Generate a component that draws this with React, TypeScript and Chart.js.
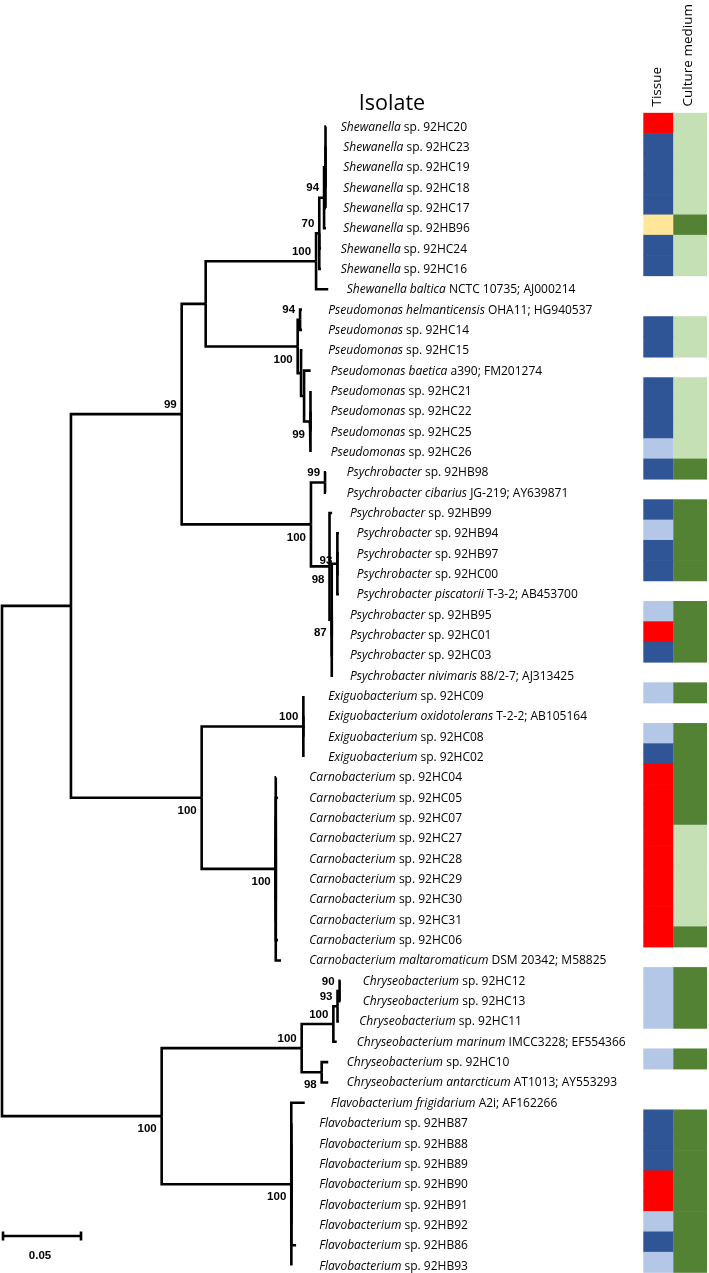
import React, { useEffect, useRef } from "react";
import { Chart, registerables } from "chart.js";

Chart.register(...registerables);

// ---------- DATA ----------
const leafGenus = [
  "Shewanella", "Shewanella", "Shewanella", "Shewanella", "Shewanella", "Shewanella", "Shewanella", "Shewanella",
  "Shewanella baltica",
  "Pseudomonas helmanticensis", "Pseudomonas", "Pseudomonas", "Pseudomonas baetica",
  "Pseudomonas", "Pseudomonas", "Pseudomonas", "Pseudomonas",
  "Psychrobacter", "Psychrobacter cibarius", "Psychrobacter", "Psychrobacter", "Psychrobacter", "Psychrobacter",
  "Psychrobacter piscatorii", "Psychrobacter", "Psychrobacter", "Psychrobacter", "Psychrobacter nivimaris",
  "Exiguobacterium", "Exiguobacterium oxidotolerans", "Exiguobacterium", "Exiguobacterium",
  "Carnobacterium", "Carnobacterium", "Carnobacterium", "Carnobacterium", "Carnobacterium", "Carnobacterium",
  "Carnobacterium", "Carnobacterium", "Carnobacterium", "Carnobacterium maltaromaticum",
  "Chryseobacterium", "Chryseobacterium", "Chryseobacterium", "Chryseobacterium marinum", "Chryseobacterium",
  "Chryseobacterium antarcticum",
  "Flavobacterium frigidarium", "Flavobacterium", "Flavobacterium", "Flavobacterium", "Flavobacterium",
  "Flavobacterium", "Flavobacterium", "Flavobacterium", "Flavobacterium",
];
const leafRest = [
  "sp. 92HC20", "sp. 92HC23", "sp. 92HC19", "sp. 92HC18", "sp. 92HC17", "sp. 92HB96", "sp. 92HC24", "sp. 92HC16",
  "NCTC 10735; AJ000214",
  "OHA11; HG940537", "sp. 92HC14", "sp. 92HC15", "a390; FM201274",
  "sp. 92HC21", "sp. 92HC22", "sp. 92HC25", "sp. 92HC26",
  "sp. 92HB98", "JG-219; AY639871", "sp. 92HB99", "sp. 92HB94", "sp. 92HB97", "sp. 92HC00",
  "T-3-2; AB453700", "sp. 92HB95", "sp. 92HC01", "sp. 92HC03", "88/2-7; AJ313425",
  "sp. 92HC09", "T-2-2; AB105164", "sp. 92HC08", "sp. 92HC02",
  "sp. 92HC04", "sp. 92HC05", "sp. 92HC07", "sp. 92HC27", "sp. 92HC28", "sp. 92HC29",
  "sp. 92HC30", "sp. 92HC31", "sp. 92HC06", "DSM 20342; M58825",
  "sp. 92HC12", "sp. 92HC13", "sp. 92HC11", "IMCC3228; EF554366", "sp. 92HC10",
  "AT1013; AY553293",
  "A2i; AF162266", "sp. 92HB87", "sp. 92HB88", "sp. 92HB89", "sp. 92HB90",
  "sp. 92HB91", "sp. 92HB92", "sp. 92HB86", "sp. 92HB93",
];
// distance from root (substitutions/site) of each tip
const leafDepth = [
  0.2025, 0.2025, 0.2025, 0.2025, 0.2025, 0.2025, 0.1994, 0.1994,
  0.2039,
  0.1875, 0.1875, 0.1878, 0.1929,
  0.1931, 0.1931, 0.1931, 0.1931,
  0.2025, 0.2025, 0.2063, 0.2106, 0.2106, 0.2106,
  0.2106, 0.2069, 0.2069, 0.2069, 0.2069,
  0.1884, 0.1884, 0.1884, 0.1884,
  0.1713, 0.1725, 0.1713, 0.1713, 0.1713, 0.1713,
  0.1713, 0.1713, 0.1725, 0.1744,
  0.2116, 0.2116, 0.2106, 0.2092, 0.2039,
  0.2039,
  0.1892, 0.1809, 0.1809, 0.1809, 0.1809,
  0.1809, 0.1809, 0.1838, 0.1809,
];
// tissue: B dark blue, L light blue, R red, Y yellow, "" none
const tissue = [
  "R", "B", "B", "B", "B", "Y", "B", "B",
  "",
  "", "B", "B", "",
  "B", "B", "B", "L",
  "B", "", "B", "L", "B", "B",
  "", "L", "R", "B", "",
  "L", "", "L", "B",
  "R", "R", "R", "R", "R", "R",
  "R", "R", "R", "",
  "L", "L", "L", "", "L",
  "",
  "", "B", "B", "B", "R",
  "R", "L", "B", "L",
];
// culture medium: G dark green, g light green, "" none
const culture = [
  "g", "g", "g", "g", "g", "G", "g", "g",
  "",
  "", "g", "g", "",
  "g", "g", "g", "g",
  "G", "", "G", "G", "G", "G",
  "", "G", "G", "G", "",
  "G", "", "G", "G",
  "G", "G", "G", "g", "g", "g",
  "g", "g", "G", "",
  "G", "G", "G", "", "G",
  "",
  "", "G", "G", "G", "G",
  "G", "G", "G", "G",
];
// internal nodes
const nodeIds = ["R", "A", "P", "G1", "Sh", "S70", "S94", "SX", "Pm", "P94", "N2", "Pb", "P99",
  "Ps", "Ps99", "Ps98", "N3", "Ps93", "F", "Ex", "C", "B", "Ch", "Ch100b", "Ch93", "Ch90", "Ch98", "Fl"];
const nodeDepth = [0, 0.0431, 0.1123, 0.1273, 0.1963, 0.1983, 0.2013, 0.2022, 0.1848, 0.1863, 0.1869, 0.1888, 0.1925,
  0.1931, 0.2019, 0.2047, 0.2061, 0.2096, 0.1248, 0.1883, 0.1711, 0.0998, 0.1873, 0.2071, 0.2097, 0.2110, 0.1998, 0.1808];
const nodeKids: (number | string)[][] = [
  ["A", "B"],
  ["P", "F"],
  ["G1", "Ps"],
  ["Sh", "Pm"],
  ["S70", 8],
  ["S94", 6, 7],
  ["SX", 5],
  [0, 1, 2, 3, 4],
  ["P94", "N2"],
  [9, 10],
  [11, "Pb"],
  [12, "P99"],
  [13, 14, 15, 16],
  ["Ps99", "Ps98"],
  [17, 18],
  [19, "N3"],
  ["Ps93", 24, 25, 26, 27],
  [20, 21, 22, 23],
  ["Ex", "C"],
  [28, 29, 30, 31],
  [32, 33, 34, 35, 36, 37, 38, 39, 40, 41],
  ["Ch", "Fl"],
  ["Ch100b", "Ch98"],
  ["Ch93", 45],
  ["Ch90", 44],
  [42, 43],
  [46, 47],
  [48, 49, 50, 51, 52, 53, 54, 55, 56],
];
const nodeBoot = [null, null, 99, null, 100, 70, 94, null, 100, 94, null, null, 99,
  100, 99, 98, 87, 93, 100, 100, 100, 100, 100, 100, 93, 90, 98, 100];
const scaleBarValue = 0.05;

// ---------- LAYOUT (pixels / styles) ----------
const W = 709, H = 1273;
const PX_PER_UNIT = 1600, TREE_X0 = 2;
const ROW0 = 126.5, ROW = 20.34;
// a: above-left, b: below-left, m: left, middle
const bootSide = ["", "", "a", "", "a", "a", "a", "", "b", "a", "", "", "b",
  "b", "a", "b", "b", "m", "b", "a", "b", "b", "a", "a", "a", "a", "b", "b"];
const labelLeft = [
  340.7, 343.3, 343.3, 343.3, 343.3, 343.3, 340.7, 340.7,
  346.7,
  328.3, 328.3, 328.3, 330.7,
  330.7, 330.7, 330.7, 330.7,
  346.7, 346.7, 350, 356.7, 356.7, 356.7,
  356.7, 350, 350, 350, 350,
  328.3, 328.3, 328.3, 328.3,
  309.3, 309.3, 309.3, 309.3, 309.3, 309.3,
  309.3, 309.3, 309.3, 309.3,
  362.7, 362.7, 359.3, 356.7, 346.7,
  346.7,
  330.7, 319.3, 319.3, 319.3, 319.3,
  319.3, 319.3, 319.3, 319.3,
];
const colors: Record<string, string> = {
  B: "#2F5597", L: "#B4C7E7", R: "#FF0000", Y: "#FFE699", G: "#548235", g: "#C5E0B4",
};

export default function App() {
  const ref = useRef<HTMLCanvasElement>(null);
  useEffect(() => {
    document.body.style.margin = "0";
    const canvas = ref.current!;
    const idx = (id: string) => nodeIds.indexOf(id);
    const yCache = new Map<string, number>();
    const nodeY = (id: string): number => {
      if (yCache.has(id)) return yCache.get(id)!;
      const kids = nodeKids[idx(id)];
      const y = (childY(kids[0]) + childY(kids[kids.length - 1])) / 2;
      yCache.set(id, y);
      return y;
    };
    const childY = (c: number | string) => (typeof c === "number" ? c : nodeY(c));
    const childD = (c: number | string) => (typeof c === "number" ? leafDepth[c] : nodeDepth[idx(c)]);

    const datasets: any[] = [];
    nodeIds.forEach((id, k) => {
      const py = nodeY(id);
      const pd = nodeDepth[k];
      nodeKids[k].forEach((c) => {
        const cy = childY(c);
        const cd = childD(c);
        datasets.push({
          data: [{ x: pd, y: py }, { x: pd, y: cy }, { x: cd, y: cy }],
          showLine: true,
          borderColor: "#000",
          borderWidth: 2.6,
          pointRadius: 0,
          borderJoinStyle: "miter",
          borderCapStyle: "butt",
          fill: false,
          tension: 0,
        });
      });
    });

    const overlay = {
      id: "overlay",
      afterDraw(chart: any) {
        const ctx = chart.ctx as CanvasRenderingContext2D;
        const xs = chart.scales.x, ys = chart.scales.y;
        ctx.save();
        ctx.fillStyle = "#000";
        // title
        ctx.font = '21.5px "Open Sans"';
        ctx.textAlign = "center";
        ctx.textBaseline = "alphabetic";
        ctx.fillText("Isolate", 392, 110);
        // rotated headers
        const rot = (text: string, x: number) => {
          ctx.save();
          ctx.translate(x, 106.5);
          ctx.rotate(-Math.PI / 2);
          ctx.font = '13.5px "Open Sans"';
          ctx.textAlign = "left";
          ctx.fillText(text, 0, 0);
          ctx.restore();
        };
        rot("Tissue", 661);
        rot("Culture medium", 692);
        // heatmap
        for (let i = 0; i < leafGenus.length; i++) {
          const cy = ys.getPixelForValue(i) - 3.5;
          const top = cy - ROW / 2;
          if (tissue[i]) {
            ctx.fillStyle = colors[tissue[i]];
            ctx.fillRect(643.3, top, 30.3, ROW + 0.6);
          }
          if (culture[i]) {
            ctx.fillStyle = colors[culture[i]];
            ctx.fillRect(673.3, top, 33.7, ROW + 0.6);
          }
        }
        // leaf labels
        ctx.fillStyle = "#000";
        ctx.textAlign = "left";
        ctx.textBaseline = "alphabetic";
        for (let i = 0; i < leafGenus.length; i++) {
          const y = ys.getPixelForValue(i) + 4;
          let x = labelLeft[i];
          ctx.font = 'italic 12px "Open Sans"';
          ctx.fillText(leafGenus[i], x, y);
          x += ctx.measureText(leafGenus[i] + " ").width;
          ctx.font = '12px "Open Sans"';
          ctx.fillText(leafRest[i], x, y);
        }
        // bootstrap values
        ctx.font = 'bold 11.5px "Liberation Sans"';
        ctx.textAlign = "right";
        ctx.textBaseline = "middle";
        nodeIds.forEach((id, k) => {
          const b = nodeBoot[k];
          if (b == null) return;
          const nx = xs.getPixelForValue(nodeDepth[k]);
          const ny = ys.getPixelForValue(nodeY(id));
          const side = bootSide[k];
          const dy = side === "a" ? -9.5 : side === "b" ? 13 : -2.5;
          ctx.fillText(String(b), nx - 5, ny + dy);
        });
        // scale bar
        const x1 = xs.getPixelForValue(0), x2 = xs.getPixelForValue(scaleBarValue);
        const sy = 1236;
        ctx.strokeStyle = "#000";
        ctx.lineWidth = 2.6;
        ctx.beginPath();
        ctx.moveTo(x1, sy); ctx.lineTo(x2, sy);
        ctx.moveTo(x1 + 1, sy - 4.5); ctx.lineTo(x1 + 1, sy + 4.5);
        ctx.moveTo(x2 - 1, sy - 4.5); ctx.lineTo(x2 - 1, sy + 4.5);
        ctx.stroke();
        ctx.textAlign = "center";
        ctx.fillText(String(scaleBarValue), (x1 + x2) / 2 - 2, 1256);
        ctx.restore();
      },
    };

    const chart = new Chart(canvas, {
      type: "scatter",
      data: { datasets },
      options: {
        responsive: false,
        animation: false,
        devicePixelRatio: 1,
        events: [],
        layout: { padding: 0 },
        plugins: { legend: { display: false }, tooltip: { enabled: false } },
        scales: {
          x: { type: "linear", display: false, min: -TREE_X0 / PX_PER_UNIT, max: (W - TREE_X0) / PX_PER_UNIT },
          y: { type: "linear", display: false, reverse: true, min: -ROW0 / ROW, max: (H - ROW0) / ROW },
        },
      },
      plugins: [overlay],
    } as any);
    return () => chart.destroy();
  }, []);
  return <canvas ref={ref} width={W} height={H} style={{ display: "block" }} />;
}
